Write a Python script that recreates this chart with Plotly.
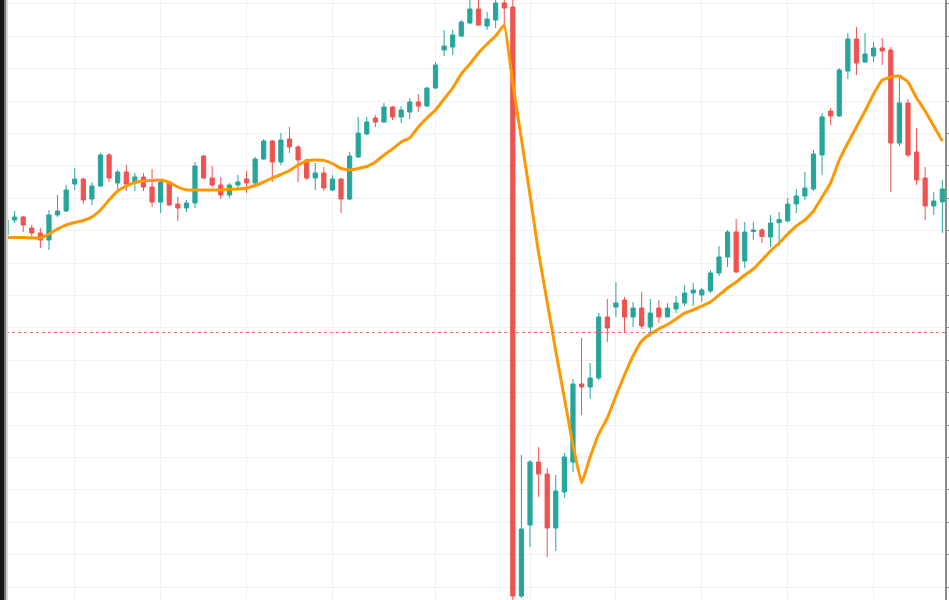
import plotly.graph_objects as go

# ---- data (price units) ----
opens = [136.5, 138.0, 138.3, 137.2, 136.7, 136.0, 138.5, 138.9, 141.6, 142.1,
         140.1, 141.4, 144.5, 141.7, 142.8, 141.7, 142.3, 141.3, 139.8, 141.8,
         139.6, 139.2, 139.7, 144.4, 142.2, 141.5, 140.5, 141.5, 142.1, 141.7,
         144.1, 145.9, 143.8, 146.1, 145.3, 144.0, 142.2, 142.7, 141.0, 142.1,
         140.1, 144.3, 146.6, 148.2, 147.8, 149.3, 148.3, 148.8, 149.8, 149.4,
         151.2, 155.0, 155.3, 156.4, 157.7, 159.1, 157.4, 158.0, 159.7, 159.3,
         100.4, 107.5, 113.8, 112.6, 107.2, 110.8, 113.8, 121.6, 121.3, 122.2,
         128.3, 129.3, 130.0, 128.3, 129.2, 127.3, 129.2, 128.3, 129.1, 129.7,
         130.7, 130.5, 130.9, 132.7, 134.3, 136.8, 133.9, 136.85, 137.0, 136.3,
         137.73, 137.9, 139.6, 140.4, 141.1, 144.5, 148.9, 148.4, 152.9, 156.1,
         153.8, 154.4, 155.2, 155.0, 145.7, 149.7, 144.8, 142.2, 139.4, 139.8]
highs = [138.5, 138.9, 138.4, 137.5, 137.2, 139.0, 140.5, 141.5, 143.2, 142.2,
         141.8, 144.7, 144.7, 143.0, 143.5, 142.7, 142.7, 143.1, 141.9, 141.9,
         140.3, 140.0, 143.8, 144.5, 143.4, 142.3, 141.7, 142.5, 142.9, 144.3,
         146.1, 146.0, 146.7, 147.3, 145.5, 144.1, 143.7, 143.3, 142.5, 142.2,
         144.8, 148.3, 148.3, 148.5, 149.7, 149.4, 149.4, 150.2, 150.6, 151.3,
         153.8, 157.0, 157.0, 158.0, 160.3, 160.3, 158.8, 160.3, 160.3, 160.3,
         114.5, 114.0, 115.3, 113.2, 112.5, 114.7, 122.1, 126.2, 123.7, 128.7,
         130.1, 131.8, 130.3, 129.8, 130.8, 130.1, 130.0, 129.7, 130.4, 131.5,
         131.7, 131.2, 133.0, 135.4, 137.0, 138.1, 137.8, 137.8, 137.2, 138.5,
         138.8, 140.2, 141.1, 142.8, 145.0, 148.7, 149.2, 153.2, 156.7, 157.3,
         156.7, 155.8, 156.2, 155.3, 152.2, 150.1, 147.2, 143.3, 140.8, 142.0]
lows = [136.3, 137.7, 136.8, 136.3, 135.2, 135.0, 138.3, 138.8, 141.0, 139.6,
        139.5, 141.3, 141.8, 140.9, 140.9, 140.9, 140.9, 139.3, 138.7, 139.4,
        137.9, 138.8, 139.2, 142.1, 141.3, 140.1, 140.2, 141.2, 140.7, 141.6,
        144.0, 141.8, 143.5, 144.7, 141.8, 142.0, 141.0, 140.9, 140.9, 138.7,
        140.0, 144.2, 146.5, 147.3, 147.7, 148.0, 147.7, 148.1, 148.8, 149.3,
        151.1, 154.4, 154.5, 156.3, 157.6, 157.4, 157.0, 157.2, 157.5, 99.7,
        100.2, 105.3, 110.3, 104.3, 104.9, 110.2, 112.8, 118.5, 120.1, 122.0,
        125.8, 128.3, 126.7, 127.3, 127.1, 126.3, 127.7, 128.3, 128.7, 129.4,
        129.4, 129.8, 130.7, 132.4, 133.3, 132.7, 133.2, 136.0, 135.7, 135.3,
        135.4, 137.8, 138.7, 140.0, 140.9, 142.5, 147.5, 148.3, 152.1, 152.5,
        153.7, 153.8, 153.5, 140.8, 145.4, 144.3, 141.5, 138.0, 138.5, 136.7]
closes = [138.0, 138.3, 137.5, 136.7, 136.0, 138.5, 138.9, 141.0, 142.1, 140.0,
          141.4, 144.5, 142.2, 142.8, 141.6, 142.3, 141.3, 139.8, 141.8, 139.5,
          139.2, 139.7, 143.4, 142.2, 141.5, 140.5, 141.5, 141.8, 141.7, 144.1,
          145.9, 143.8, 146.0, 145.3, 144.0, 142.2, 142.7, 141.2, 142.1, 140.1,
          144.4, 146.7, 147.8, 147.8, 149.3, 148.3, 149.0, 149.8, 149.4, 151.2,
          153.5, 155.4, 156.5, 157.8, 159.1, 157.5, 158.1, 159.7, 159.2, 100.4,
          107.1, 113.8, 112.6, 107.2, 110.9, 114.3, 121.6, 121.3, 122.2, 128.3,
          127.2, 129.7, 128.3, 129.2, 127.4, 128.7, 128.3, 129.2, 129.7, 130.7,
          131.0, 131.0, 132.7, 134.3, 136.8, 132.8, 136.8, 137.0, 136.35, 137.7,
          138.05, 139.6, 140.4, 141.2, 144.6, 148.3, 148.4, 153.0, 156.1, 153.7,
          154.6, 155.2, 154.9, 145.7, 149.7, 144.5, 142.0, 139.4, 139.9, 141.1]
ma = [136.25, 136.25, 136.25, 136.2, 136.2, 136.6, 137.1, 137.5, 137.75, 137.95,
      138.3, 139.0, 140.0, 140.9, 141.4, 141.75, 141.9, 141.95, 142.0, 141.75,
      141.3, 141.0, 141.0, 141.0, 141.0, 141.0, 141.05, 141.1, 141.2, 141.45,
      141.8, 142.2, 142.55, 142.95, 143.5, 143.9, 144.0, 143.95, 143.65, 143.15,
      143.0, 143.15, 143.35, 143.8, 144.5, 145.1, 145.8, 146.2, 147.3, 148.2,
      149.0, 150.1, 151.2, 152.6, 153.6, 154.7, 155.6, 156.4, 157.5, 151.6,
      146.1, 140.5, 134.7, 129.8, 124.9, 120.2, 115.5, 111.7, 114.3, 116.6,
      118.2, 120.4, 122.5, 124.4, 125.9, 126.6, 127.1, 127.55, 128.1, 128.7,
      129.0, 129.4, 129.8, 130.5, 131.2, 131.8, 132.5, 133.1, 134.0, 134.9,
      135.7, 136.6, 137.4, 138.0, 138.9, 140.3, 141.7, 144.0, 145.7, 147.3,
      148.9, 150.6, 152.0, 152.3, 152.4, 151.8, 150.2, 148.9, 147.4, 145.9]
ref_price = 126.75
time_ticks = [8, 18, 28, 38, 50, 61, 71, 81, 91, 101]

x = list(range(len(opens)))

GREEN = "#26a69a"
RED = "#ef5350"

fig = go.Figure()
fig.add_trace(go.Candlestick(
    x=x, open=opens, high=highs, low=lows, close=closes,
    increasing=dict(line=dict(color=GREEN, width=1), fillcolor=GREEN),
    decreasing=dict(line=dict(color=RED, width=1), fillcolor=RED),
    whiskerwidth=0, showlegend=False, name="Price"))
fig.add_trace(go.Scatter(
    x=x, y=ma, mode="lines", line=dict(color="#ff9800", width=3, shape="spline", smoothing=0.3),
    showlegend=False, name="MA", hoverinfo="skip"))

fig.add_hline(y=ref_price, line=dict(color=RED, width=1, dash="dot"), opacity=0.8)

# dark shadow band along the left edge
fig.add_shape(type="rect", xref="paper", yref="paper", x0=0, x1=4 / 945, y0=0, y1=1,
              fillcolor="#151515", line=dict(width=0), layer="above")
fig.add_shape(type="rect", xref="paper", yref="paper", x0=4 / 945, x1=6 / 945, y0=0, y1=1,
              fillcolor="#777777", line=dict(width=0), layer="above")
fig.add_shape(type="rect", xref="paper", yref="paper", x0=6 / 945, x1=8 / 945, y0=0, y1=1,
              fillcolor="#d5d5d5", line=dict(width=0), layer="above")

fig.update_layout(
    width=949, height=600,
    margin=dict(l=0, r=4, t=0, b=0),
    paper_bgcolor="white", plot_bgcolor="white",
    boxgap=0.3,
    xaxis=dict(range=[-0.7, 109.31], rangeslider=dict(visible=False),
               showticklabels=False, tickvals=time_ticks, showgrid=True,
               gridcolor="#eef1f6", gridwidth=1, zeroline=False, showline=False, ticks=""),
    yaxis=dict(range=[100, 160], side="right", tick0=159.62, dtick=3.24,
               showticklabels=False, showgrid=True, gridcolor="#eef1f6", gridwidth=1,
               zeroline=False, showline=True, linecolor="#8c8c8c", linewidth=1.5,
               ticks="outside", ticklen=4, tickcolor="#8c8c8c", tickwidth=1),
)

fig.write_html("out.html", config={"displayModeBar": False},
               post_script="document.body.style.margin='0';document.body.style.overflow='hidden';")
